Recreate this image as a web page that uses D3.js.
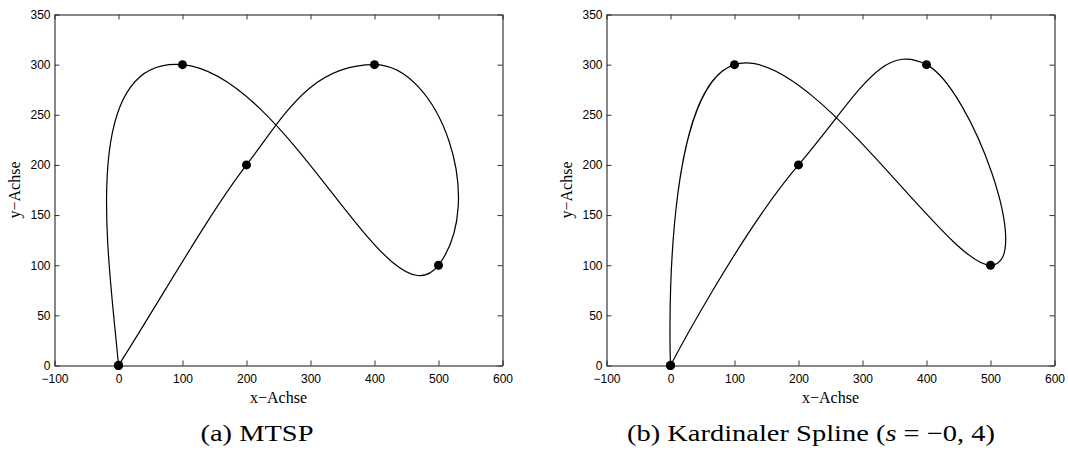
<!DOCTYPE html>
<html><head><meta charset="utf-8">
<script src="https://cdn.jsdelivr.net/npm/d3@7"></script>
<style>body{margin:0;background:#fff} svg{display:block}</style>
</head><body>
<svg id="chart" width="1068" height="450"></svg>
<script>
// control points (same for both panels)
const pointX = [0, 100, 500, 400, 200, 0];
const pointY = [0, 300, 100, 300, 200, 0];
// MTSP tangent vectors at the control points
const tangentX = [-40, 500, 230, -300, -180, -200];
const tangentY = [300, -30, 193, 0, -150, -200];
const cardinalS = -0.4;
const xTicks = [-100, 0, 100, 200, 300, 400, 500, 600];
const yTicks = [0, 50, 100, 150, 200, 250, 300, 350];
const xDomain = [-100, 600];
const yDomain = [0, 350];
const xLabel = "x\u2212Achse";
const yLabel = "y\u2212Achse";

const svg = d3.select("#chart");
const plotTop = 14.5, plotBottom = 365.5;
const panels = [{x0: 54.5, x1: 502.5, cap: 257, capW: 113}, {x0: 606.5, x1: 1054.5, cap: 811, capW: 368}];
const pts = pointX.map((x, i) => [x, pointY[i]]);

panels.forEach((p, pi) => {
  const x = d3.scaleLinear().domain(xDomain).range([p.x0, p.x1]);
  const y = d3.scaleLinear().domain(yDomain).range([plotBottom, plotTop]);
  const g = svg.append("g");
  g.append("g").attr("transform", `translate(0,${plotBottom})`).call(d3.axisBottom(x).tickValues(xTicks).tickSizeInner(-5).tickSizeOuter(0).tickPadding(9).tickFormat(d => d < 0 ? "\u2212" + Math.abs(d) : d));
  g.append("g").attr("transform", `translate(${p.x0},0)`).call(d3.axisLeft(y).tickValues(yTicks).tickSizeInner(-5).tickSizeOuter(0).tickPadding(4));
  g.append("g").attr("transform", `translate(0,${plotTop})`).call(d3.axisTop(x).tickValues(xTicks).tickSizeInner(-5).tickSizeOuter(0).tickFormat(""));
  g.append("g").attr("transform", `translate(${p.x1},0)`).call(d3.axisRight(y).tickValues(yTicks).tickSizeInner(-5).tickSizeOuter(0).tickFormat(""));
  g.selectAll(".domain").attr("stroke", "#111");
  g.selectAll(".tick line").attr("stroke", "#333");
  g.selectAll(".tick text").attr("font-family", "Liberation Sans, Arial, sans-serif").attr("font-size", 12).attr("fill", "#000");
  g.append("text").attr("x", (p.x0 + p.x1) / 2).attr("y", 403).attr("text-anchor", "middle").attr("font-family", "Liberation Serif, serif").attr("font-size", 16).text(xLabel);
  g.append("text").attr("transform", `translate(${p.x0 - 35},${(plotTop + plotBottom) / 2}) rotate(-90)`).attr("text-anchor", "middle").attr("font-family", "Liberation Serif, serif").attr("font-size", 16).text(yLabel);
  const cap = g.append("text").attr("x", p.cap).attr("y", 441).attr("text-anchor", "middle").attr("font-family", "Liberation Serif, serif").attr("font-size", 23)
    .attr("textLength", p.capW).attr("lengthAdjust", "spacingAndGlyphs");
  if (pi === 0) cap.text("(a) MTSP");
  else { cap.append("tspan").text("(b) Kardinaler Spline ("); cap.append("tspan").attr("font-style", "italic").text("s"); cap.append("tspan").text(" = \u22120, 4)"); }

  let d;
  if (pi === 1) {
    d = d3.line().x(q => x(q[0])).y(q => y(q[1])).curve(d3.curveCardinal.tension(cardinalS))(pts);
  } else {
    const path = d3.path();
    path.moveTo(x(pointX[0]), y(pointY[0]));
    for (let i = 0; i < pointX.length - 1; i++) {
      path.bezierCurveTo(
        x(pointX[i] + tangentX[i] / 3), y(pointY[i] + tangentY[i] / 3),
        x(pointX[i + 1] - tangentX[i + 1] / 3), y(pointY[i + 1] - tangentY[i + 1] / 3),
        x(pointX[i + 1]), y(pointY[i + 1]));
    }
    d = path.toString();
  }
  g.append("path").attr("d", d).attr("fill", "none").attr("stroke", "#000").attr("stroke-width", 1.2);
  g.selectAll(".pt").data(pts).join("circle").attr("cx", q => x(q[0])).attr("cy", q => y(q[1])).attr("r", 4.5).attr("fill", "#000");
});
</script>
</body></html>
